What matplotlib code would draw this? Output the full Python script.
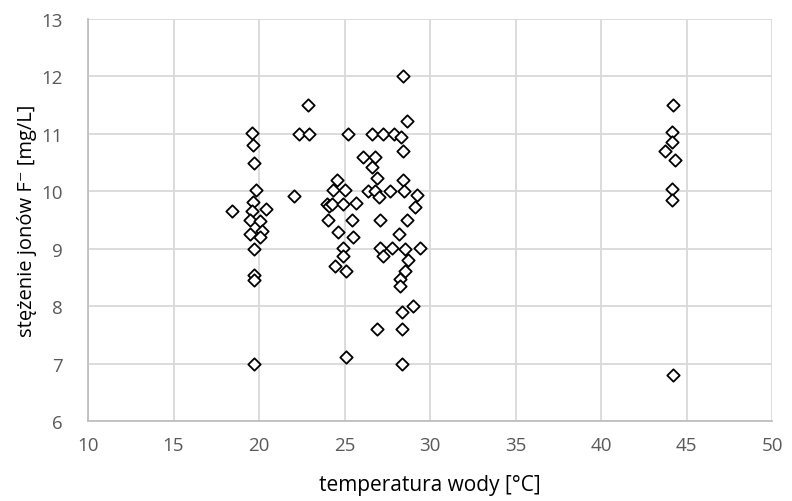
import matplotlib
matplotlib.use("Agg")
import matplotlib.pyplot as plt

# temperature of water [°C]
temp = [
    18.45, 19.57, 19.67, 19.73, 19.8, 19.67, 19.6, 20.39, 19.5, 20.06, 20.2, 19.5, 20.06,
    19.73, 19.7, 19.73, 19.73, 22.07, 22.36, 22.9, 22.85,
    24.05, 24.0, 24.1, 24.25, 24.35, 24.54, 24.64, 24.44, 24.93, 24.93, 25.03, 25.09,
    25.09, 25.19, 24.9, 25.42, 25.52, 25.7,
    26.1, 26.4, 26.59, 26.59, 26.78, 26.8, 26.88, 26.92, 27.0, 27.08, 27.08, 27.27, 27.27,
    27.66, 27.76, 27.9,
    28.25, 28.25, 28.3, 28.34, 28.34, 28.34, 28.4, 28.4, 28.44, 28.5, 28.54, 28.54, 28.64,
    28.64, 28.73, 29.03, 29.12, 29.22, 29.42, 28.2,
    43.74, 44.17, 44.17, 44.17, 44.23, 44.3, 44.17, 44.23,
]
# fluoride ion concentration [mg/L]
conc = [
    9.65, 11.01, 10.8, 10.5, 10.02, 9.81, 9.65, 9.69, 9.5, 9.49, 9.3, 9.25, 9.2,
    9.0, 8.55, 8.46, 7.0, 9.91, 11.0, 11.0, 11.5,
    9.5, 9.77, 9.75, 9.77, 10.02, 10.2, 9.29, 8.7, 9.01, 8.88, 10.02, 8.62,
    7.12, 11.0, 9.77, 9.5, 9.2, 9.8,
    10.6, 10.0, 11.0, 10.42, 10.6, 10.0, 10.24, 7.61, 9.9, 9.5, 9.01, 11.0, 8.88,
    10.0, 9.01, 11.0,
    8.47, 8.35, 10.95, 7.9, 7.61, 7.0, 12.0, 10.7, 10.2, 10.0, 9.0, 8.62, 11.22,
    9.5, 8.8, 8.0, 9.72, 9.94, 9.01, 9.25,
    10.71, 11.03, 10.85, 10.04, 11.51, 10.55, 9.85, 6.8,
]

x_ticks = [10, 15, 20, 25, 30, 35, 40, 45, 50]
y_ticks = [6, 7, 8, 9, 10, 11, 12, 13]
x_label = "temperatura wody [°C]"
y_label = "stężenie jonów F⁻ [mg/L]"

FONT = ["Open Sans", "DejaVu Sans"]
plt.rcParams["font.family"] = FONT

fig = plt.figure(figsize=(7.92, 5.02), dpi=100)
ax = fig.add_axes([88 / 792, 80 / 502, 684 / 792, 402 / 502])

ax.scatter(temp, conc, marker="D", s=6.3 ** 2, facecolor="white",
           edgecolor="black", linewidth=1.3, zorder=3, clip_on=False)

ax.set_xlim(10, 50)
ax.set_ylim(6, 13)
ax.set_xticks(x_ticks)
ax.set_yticks(y_ticks)
ax.grid(True, color="#d9d9d9", linewidth=1.3, zorder=0)
ax.set_axisbelow(True)
for s in ["top", "right"]:
    ax.spines[s].set_visible(False)
for s in ["left", "bottom"]:
    ax.spines[s].set_color("#bfbfbf")
    ax.spines[s].set_linewidth(1.3)
ax.tick_params(axis="both", length=0, labelsize=13.5, labelcolor="#595959")
ax.tick_params(axis="x", pad=11)
ax.tick_params(axis="y", pad=18)

ax.set_xlabel(x_label, fontsize=15, color="#000000", labelpad=14)
ax.set_ylabel(y_label, fontsize=14.5, color="#000000", labelpad=3)

fig.savefig("out.png", dpi=100)
